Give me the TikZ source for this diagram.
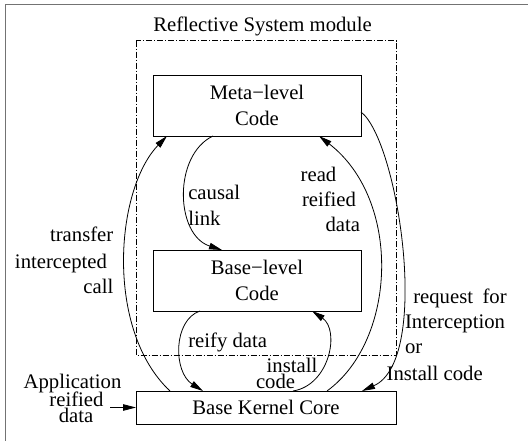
\documentclass[tikz,border=0pt]{standalone}
\usepackage{fontspec}
\setmainfont{Liberation Serif}
\usetikzlibrary{arrows.meta}

\begin{document}
\begin{tikzpicture}[x=1pt,y=-1pt,
  every node/.style={font=\fontsize{20.7}{26}\selectfont},
  codebox/.style={draw,line width=0.9pt,inner sep=0pt,outer sep=0pt,align=center},
  txt/.style={inner sep=0pt,outer sep=0pt},
  link/.style={line width=0.8pt,-{Triangle[length=13pt,width=6.5pt]}},
  modulebox/.style={line width=0.8pt,dash pattern=on 6pt off 2pt on 1pt off 2pt},
  frame/.style={draw=black!55,line width=1.6pt}]

\useasboundingbox (0,0) rectangle (528,441);

% outer frame (top and left edges)
\draw[frame] (5.5,441) -- (5.5,4.5) -- (528,4.5);

% reflective module boundary
\draw[modulebox] (136,40.7) rectangle (396,355);
\node[txt,anchor=base] (title) at (262.5,32) {Reflective System module};

% components
\node[codebox,minimum width=208pt,minimum height=61pt] (meta) at (257,105.5) {Meta−level\\Code};
\node[codebox,minimum width=208pt,minimum height=61pt] (base) at (257,280.5) {Base−level\\Code};
\node[codebox,minimum width=260pt,minimum height=33pt] (kernel) at (266,407.5) {Base Kernel Core};

% causal link: meta -> base
\draw[link] ([xshift=60pt]meta.south west)
  .. controls (173,155) and (175,235) .. ([xshift=69pt]base.north west);
\node[txt,anchor=base west] (lcausal) at (188.3,199.3) {causal};
\node[txt,anchor=base west] (llink) at (188.3,225.3) {link};

% read reified data: kernel -> meta
\draw[link] ([xshift=191pt]kernel.north west)
  .. controls (397,340) and (402,200) .. ([xshift=166pt]meta.south west);
\node[txt,anchor=base west] (lread) at (300.7,181.7) {read};
\node[txt,anchor=base west] (lreified) at (302,206.7) {reified};
\node[txt,anchor=base east] (ldata) at (360,231.7) {data};

% transfer intercepted call: kernel -> meta
\draw[link] ([xshift=34pt]kernel.north west)
  .. controls (105,330) and (115,190) .. ([xshift=14pt]meta.south west);
\node[txt,anchor=base east] (ltransfer) at (113.3,241.7) {transfer};
\node[txt,anchor=base west] (lintercepted) at (15,268.3) {intercepted};
\node[txt,anchor=base east] (lcall) at (113.3,294) {call};

% request for interception or install code: meta -> kernel
\draw[link] ([yshift=-6.5pt]meta.east)
  .. controls (398,140) and (432,360) .. ([xshift=226pt]kernel.north west);
\node[txt,anchor=base west] (lrequest) at (413.3,303.3) {\makebox[93.4pt][s]{request for}};
\node[txt,anchor=base west] (linterception) at (405,328.3) {Interception};
\node[txt,anchor=base west] (lor) at (405,353.3) {or};
\node[txt,anchor=base west] (linstall) at (386.7,380.7) {Install code};

% reify data: base -> kernel
\draw[link] ([xshift=47pt]base.south west)
  .. controls (173,320) and (173,372) .. ([xshift=67pt]kernel.north west);
\node[txt,anchor=base west] (lreify) at (188.3,347.3) {reify data};

% install code: kernel -> base
\draw[link] ([xshift=157pt]kernel.north west)
  .. controls (330,385) and (340,330) .. ([xshift=159pt]base.south west);
\node[txt,anchor=base west] (linstallb) at (266.7,372.7) {install};
\node[txt,anchor=base west] (lcode) at (256,388.3) {code};

% application reified data entering the kernel
\coordinate (appsrc) at (110,407.5);
\draw[link] (appsrc) -- (kernel.west);
\node[txt,anchor=base] (lapp) at (72.5,388.3) {Application};
\node[txt,anchor=base] (lappreified) at (76.5,406.7) {reified};
\node[txt,anchor=base] (lappdata) at (76,422.7) {data};

\end{tikzpicture}
\end{document}
